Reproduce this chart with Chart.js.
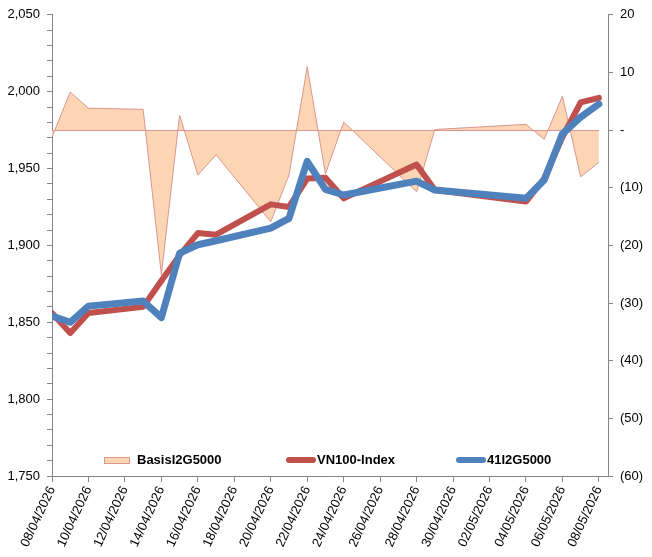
<!DOCTYPE html>
<html>
<head>
<meta charset="utf-8">
<script src="https://cdn.jsdelivr.net/npm/chart.js@4/dist/chart.umd.min.js"></script>
<style>
  html, body { margin: 0; padding: 0; background: #fff; }
  #wrap { width: 652px; height: 557px; }
</style>
</head>
<body>
<div id="wrap"><canvas id="chart" width="652" height="557"></canvas></div>
<script>
// --- data ---
const dates = ['08/04/2026', '09/04/2026', '10/04/2026', '13/04/2026', '14/04/2026', '15/04/2026',
    '16/04/2026', '17/04/2026', '20/04/2026', '21/04/2026', '22/04/2026', '23/04/2026', '24/04/2026',
    '28/04/2026', '29/04/2026', '04/05/2026', '05/05/2026', '06/05/2026', '07/05/2026', '08/05/2026'];
const basis = [-1.2, 6.6, 3.8, 3.6, -25.1, 2.6, -7.8, -4.3, -15.9, -7.8, 11.0, -7.6, 1.4,
    -10.7, 0.1, 1.0, -1.6, 5.9, -8.1, -5.6];
const vn100 = [1856, 1843, 1856, 1860, 1877, 1893.5, 1908, 1907, 1926.7, 1925, 1943.5, 1944, 1930.6,
    1952.6, 1936, 1928.5, 1943.5, 1970.5, 1993, 1996];
const futures = [1854, 1850, 1860.5, 1863.8, 1853, 1895, 1900.4, 1903, 1911.2, 1917.6, 1954.7, 1936.4,
    1932.8, 1941.8, 1936, 1930.6, 1942.5, 1972.6, 1983.4, 1992];
const seriesNames = ['BasisI2G5000', 'VN100-Index', '41I2G5000'];
const leftTicks = [1750, 2050, 10];   // min, max, step
const rightTicks = [-60, 20, 10];

// tanggal -> hari sejak tanggal pertama
function toDay(s) {
    const p = s.split('/');
    return Date.UTC(+p[2], +p[1] - 1, +p[0]) / 86400000;
}
const day0 = toDay(dates[0]);
const xs = dates.map(d => toDay(d) - day0);
const lastX = xs[xs.length - 1];

function fmtDate(off) {
    const d = new Date((day0 + off) * 86400000);
    const dd = String(d.getUTCDate()).padStart(2, '0');
    const mm = String(d.getUTCMonth() + 1).padStart(2, '0');
    return dd + '/' + mm + '/' + d.getUTCFullYear();
}
const pts = arr => arr.map((v, i) => ({ x: xs[i], y: v }));

const AXIS = '#868686';
const RED = '#C0504D';
const BLUE = '#4F81BD';
const PEACH = '#FCD5B5';
const PEACH_LINE = '#D9978E';
const FONT = 'Liberation Sans, Arial, sans-serif';

// garis nol untuk area (border bawah area seperti di Excel)
const baseline = {
    id: 'baseline',
    afterDatasetDraw(chart, args) {
        if (args.index !== 0) return;
        const c = chart.ctx, x = chart.scales.x, y2 = chart.scales.y2;
        c.save();
        c.strokeStyle = PEACH_LINE;
        c.lineWidth = 1;
        c.beginPath();
        c.moveTo(x.getPixelForValue(0), Math.round(y2.getPixelForValue(0)) + 0.5);
        c.lineTo(x.getPixelForValue(lastX), Math.round(y2.getPixelForValue(0)) + 0.5);
        c.stroke();
        c.restore();
    }
};

// legenda di dalam area plot, bawah
const innerLegend = {
    id: 'innerLegend',
    afterDraw(chart) {
        const c = chart.ctx;
        const y = 460;
        const items = [
            { kind: 'area', x: 104 },
            { kind: 'line', x: 286, color: RED },
            { kind: 'line', x: 456, color: BLUE }
        ];
        c.save();
        c.font = 'bold 13px ' + FONT;
        c.fillStyle = '#000';
        c.textBaseline = 'middle';
        items.forEach((it, i) => {
            if (it.kind === 'area') {
                c.fillStyle = PEACH;
                c.fillRect(it.x, y - 3, 26, 7);
                c.strokeStyle = PEACH_LINE;
                c.lineWidth = 1;
                c.strokeRect(it.x + 0.5, y - 3 + 0.5, 25, 6);
                c.fillStyle = '#000';
                c.fillText(seriesNames[i], it.x + 33, y);
            } else {
                c.strokeStyle = it.color;
                c.lineWidth = 6;
                c.lineCap = 'round';
                c.beginPath();
                c.moveTo(it.x + 3, y);
                c.lineTo(it.x + 27, y);
                c.stroke();
                c.fillStyle = '#000';
                c.fillText(seriesNames[i], it.x + 31, y);
            }
        });
        c.restore();
    }
};

const ctx = document.getElementById('chart').getContext('2d');
new Chart(ctx, {
    type: 'line',
    data: {
        datasets: [
            {
                label: seriesNames[0],
                data: pts(basis),
                yAxisID: 'y2',
                fill: 'origin',
                backgroundColor: PEACH,
                borderColor: PEACH_LINE,
                borderWidth: 1,
                pointRadius: 0,
                tension: 0,
                order: 3
            },
            {
                label: seriesNames[1],
                data: pts(vn100),
                yAxisID: 'y',
                borderColor: RED,
                borderWidth: 6,
                borderJoinStyle: 'round',
                borderCapStyle: 'round',
                pointRadius: 0,
                fill: false,
                tension: 0,
                order: 2
            },
            {
                label: seriesNames[2],
                data: pts(futures),
                yAxisID: 'y',
                borderColor: BLUE,
                borderWidth: 7,
                borderJoinStyle: 'round',
                borderCapStyle: 'round',
                pointRadius: 0,
                fill: false,
                tension: 0,
                order: 1
            }
        ]
    },
    options: {
        responsive: false,
        animation: false,
        layout: { padding: { top: 12, left: 0, right: 0, bottom: 0 } },
        plugins: {
            legend: { display: false },
            tooltip: { enabled: false }
        },
        scales: {
            x: {
                type: 'linear',
                min: 0,
                max: lastX + 0.5,
                afterFit: s => { s.height = 81; },
                border: { color: AXIS, width: 1 },
                grid: { drawOnChartArea: false, color: AXIS, tickLength: 6 },
                ticks: {
                    stepSize: 2,
                    includeBounds: false,
                    autoSkip: false,
                    minRotation: 65,
                    maxRotation: 65,
                    padding: 2,
                    color: '#000',
                    font: { family: FONT, size: 13 },
                    callback: v => fmtDate(v)
                }
            },
            y: {
                position: 'left',
                min: leftTicks[0],
                max: leftTicks[1],
                afterFit: s => { s.width = 52; },
                border: { color: AXIS, width: 1 },
                grid: { drawOnChartArea: false, color: AXIS, tickLength: 5 },
                ticks: {
                    stepSize: leftTicks[2],
                    autoSkip: false,
                    padding: 7,
                    color: '#000',
                    font: { family: FONT, size: 13 },
                    callback: v => (v % 50 === 0 ? v.toLocaleString('en-US') : '')
                }
            },
            y2: {
                position: 'right',
                min: rightTicks[0],
                max: rightTicks[1],
                afterFit: s => { s.width = 44; },
                border: { color: AXIS, width: 1 },
                grid: { drawOnChartArea: false, color: AXIS, tickLength: 5 },
                ticks: {
                    stepSize: rightTicks[2],
                    autoSkip: false,
                    padding: 7,
                    color: '#000',
                    font: { family: FONT, size: 13 },
                    callback: v => (v === 0 ? '-' : v < 0 ? '(' + (-v) + ')' : String(v))
                }
            }
        }
    },
    plugins: [baseline, innerLegend]
});
</script>
</body>
</html>
